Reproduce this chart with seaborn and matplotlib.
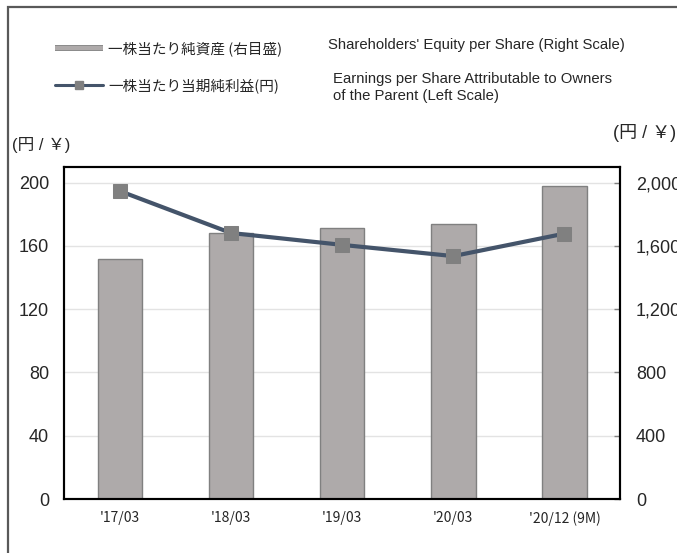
import pandas as pd
import matplotlib
matplotlib.use('Agg')
from matplotlib import pyplot as plt
from matplotlib.lines import Line2D
from matplotlib.patches import Rectangle
from matplotlib.ticker import FuncFormatter
import matplotlib.patheffects as pe
import seaborn as sns

sns.set_style('white')
plt.rcParams['font.family'] = ['Liberation Sans', 'Noto Sans CJK JP']

# data
periods = ["'17/03", "'18/03", "'19/03", "'20/03", "'20/12 (9M)"]
eps = [194.6, 168.1, 160.6, 153.5, 167.7]          # left scale, yen
bps = [1519, 1681, 1712, 1737, 1975]               # right scale, yen
left_ticks = [0, 40, 80, 120, 160, 200]
right_ticks = [0, 400, 800, 1200, 1600, 2000]
legend_jp = ['一株当たり純資産 (右目盛)', '一株当たり当期純利益(円)']
legend_en = ["Shareholders' Equity per Share (Right Scale)",
             "Earnings per Share Attributable to Owners\nof the Parent (Left Scale)"]
unit_label = '(円 / ￥)'

df = pd.DataFrame({'period': periods, 'eps': eps, 'bps': bps})

bar_color = '#AEAAAA'
edge_gray = '#808080'
line_color = '#44546A'

W, H = 677, 553
fig = plt.figure(figsize=(W / 100, H / 100), dpi=100)
ax = fig.add_axes([64.3 / W, 1 - 499 / H, (620 - 64.3) / W, (499 - 166.7) / H])
ax2 = ax.twinx()

# bars on the right scale, drawn behind the line
sns.barplot(data=df, x='period', y='bps', ax=ax2, color=bar_color, saturation=1,
            width=0.4, edgecolor=edge_gray, linewidth=1)
sns.lineplot(data=df, x='period', y='eps', ax=ax, color=line_color, lw=3,
             marker='s', markersize=10, markerfacecolor=edge_gray,
             markeredgecolor=edge_gray, sort=False)

ax.set_zorder(ax2.get_zorder() + 1)
ax.patch.set_visible(False)
ax2.patch.set_visible(True)
ax2.patch.set_facecolor('white')

ax.set_xlim(-0.5, len(periods) - 0.5)
ax.set_ylim(0, 210)
ax2.set_ylim(0, 2100)
ax.set_yticks(left_ticks)
ax2.set_yticks(right_ticks)
ax2.yaxis.set_major_formatter(FuncFormatter(lambda v, p: f'{int(v):,}'))

ax2.yaxis.grid(True, color='#E3E3E3', lw=1)
ax2.set_axisbelow(True)
ax.grid(False)

for a in (ax, ax2):
    a.set_xlabel('')
    a.set_ylabel('')
    for s in a.spines.values():
        s.set_visible(True)
        s.set_color('black')
        s.set_linewidth(1.5)

ax.tick_params(axis='y', left=False, labelsize=13, pad=7.5)
ax2.tick_params(axis='y', right=True, direction='in', length=4, width=1,
                color=edge_gray, labelsize=13, pad=11.5)
ax.tick_params(axis='x', bottom=False, labelsize=10, pad=5,
               labelfontfamily='Noto Sans CJK JP')

# legend
h_bar = Line2D([], [], color=bar_color, lw=3, solid_capstyle='butt',
               path_effects=[pe.Stroke(linewidth=4.2, foreground=edge_gray, capstyle='butt'),
                             pe.Normal()])
h_line = Line2D([], [], color=line_color, lw=2.2, marker='s', markersize=5.5,
                markerfacecolor=edge_gray, markeredgecolor=edge_gray)
fig.legend([h_bar, h_line], legend_jp, loc='upper left',
           bbox_to_anchor=(55 / W, 1 - 41.5 / H), frameon=False,
           prop={'family': 'Noto Sans CJK JP', 'size': 10.5},
           handlelength=3.3, handletextpad=0.36, labelspacing=1.5,
           borderpad=0, borderaxespad=0)

fig.text(328 / W, 1 - 45 / H, legend_en[0], fontsize=10.75, va='center')
fig.text(333 / W, 1 - 87.5 / H, legend_en[1], fontsize=10.75, va='center',
         linespacing=1.25)

fig.text(12 / W, 1 - 145 / H, unit_label, fontsize=12, va='center')
fig.text(613 / W, 1 - 133 / H, unit_label, fontsize=13, va='center')

# outer frame, cropped on the right and bottom
fig.add_artist(Rectangle((8 / W, -0.05), 1.0, 1 - 7 / H + 0.05,
                         transform=fig.transFigure, fill=False,
                         edgecolor='#595959', lw=1.6))

fig.savefig('out.png', dpi=100)
